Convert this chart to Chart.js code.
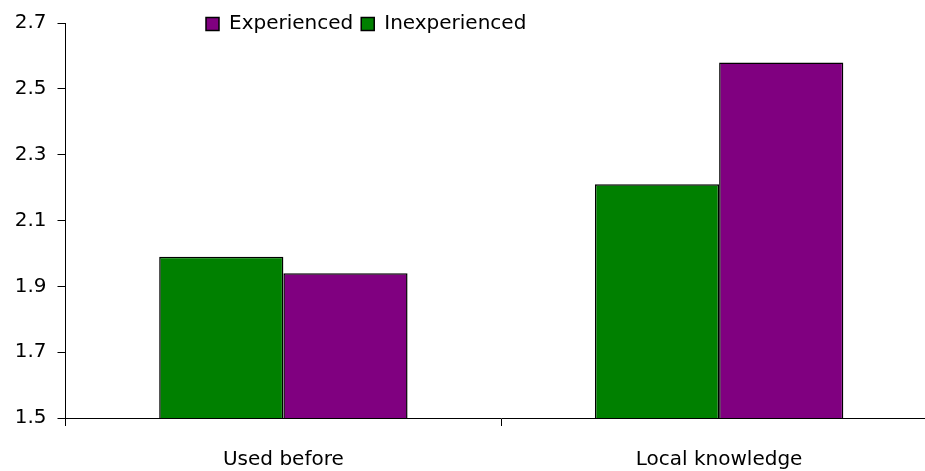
<!DOCTYPE html>
<html>
<head>
<meta charset="utf-8">
<script src="https://cdn.jsdelivr.net/npm/chart.js@4/dist/chart.umd.min.js"></script>
<style>
html,body{margin:0;padding:0;background:#fff;overflow:hidden;}
#wrap{width:925px;height:471px;position:relative;overflow:hidden;}
#c{display:block;}
</style>
</head>
<body>
<div id="wrap"><canvas id="c" width="937" height="471"></canvas></div>
<script>
const categories = ['Used before', 'Local knowledge'];
const inexperienced = [1.99, 2.21];
const experienced = [1.94, 2.58];
const yTicks = [1.5, 1.7, 1.9, 2.1, 2.3, 2.5, 2.7];

Chart.defaults.font.family = "'DejaVu Sans', sans-serif";
Chart.defaults.font.size = 20;
Chart.defaults.color = '#000';

const legendPlace = {
  id: 'legendPlace',
  beforeLayout(chart) {
    const lg = chart.legend;
    if (lg && !lg._patched) {
      const orig = Object.getPrototypeOf(lg).fit;
      lg.fit = function () { orig.call(this); this.height = 0; };
      lg._patched = true;
    }
  },
  afterLayout(chart) {
    const lg = chart.legend;
    if (!lg) return;
    const pad = lg.options.labels.padding;
    lg.left = 206 - pad;
    lg.right = 925;
    lg.top = 14 - pad;
    lg.bottom = lg.top + 30;
  }
};

new Chart(document.getElementById('c'), {
  type: 'bar',
  data: {
    labels: categories,
    datasets: [
      { label: 'Inexperienced', data: inexperienced, backgroundColor: '#008000', borderColor: '#000', borderWidth: 1.5 },
      { label: 'Experienced', data: experienced, backgroundColor: '#800080', borderColor: '#000', borderWidth: 1.5 }
    ]
  },
  options: {
    responsive: false,
    animation: false,
    layout: { padding: { left: 0, right: 0, top: 22, bottom: 0 } },
    datasets: { bar: { categoryPercentage: 0.57, barPercentage: 1.0 } },
    plugins: {
      legend: {
        position: 'top',
        align: 'start',
        reverse: true,
        labels: { boxWidth: 13, boxHeight: 13, padding: 8, color: '#000', font: { size: 20 } }
      },
      tooltip: { enabled: false }
    },
    scales: {
      x: {
        grid: { display: true, drawOnChartArea: false, offset: true, color: '#000', tickLength: 8, lineWidth: 1 },
        border: { display: true, color: '#000', width: 1 },
        ticks: { padding: 22, color: '#000', font: { size: 20 } },
        afterFit(s) { s.height = 53; }
      },
      y: {
        min: 1.5,
        max: 2.7,
        afterBuildTicks(s) { s.ticks = yTicks.map(v => ({ value: v })); },
        grid: { display: true, drawOnChartArea: false, color: '#000', tickLength: 8, lineWidth: 1 },
        border: { display: true, color: '#000', width: 1 },
        ticks: { padding: 11, color: '#000', font: { size: 20 }, callback: v => Number(v).toFixed(1) },
        afterFit(s) { s.width = 65.5; }
      }
    }
  },
  plugins: [legendPlace]
});
</script>
</body>
</html>
